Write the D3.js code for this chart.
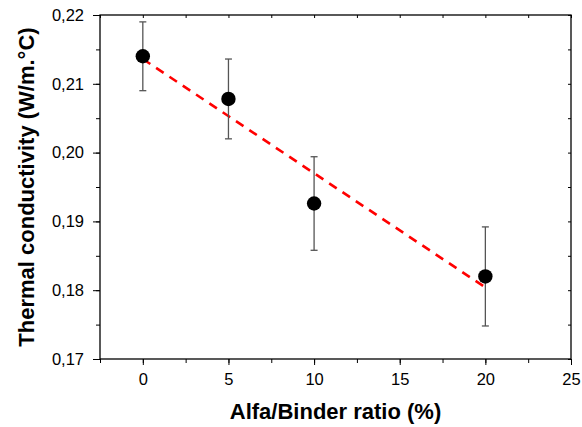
<!DOCTYPE html>
<html>
<head>
<meta charset="utf-8">
<script src="https://cdn.jsdelivr.net/npm/d3@7"></script>
<style>
  body { margin: 0; background: #fff; overflow: hidden; }
  svg { display: block; }
  text { font-family: "Liberation Sans", Arial, sans-serif; }
</style>
</head>
<body>
<div id="chart"></div>
<script>
// data
var ratios = [0, 5, 10, 20];
var conductivity = [0.2140, 0.2078, 0.1926, 0.1820];
var errors = [0.0050, 0.0058, 0.0068, 0.0072];
var fitX = [0, 20];
var fitY = [0.2136, 0.1804];
var xTicks = [0, 5, 10, 15, 20, 25];
var yTicks = [0.17, 0.18, 0.19, 0.20, 0.21, 0.22];

var width = 582, height = 427,
    margin = {top: 15, right: 11, bottom: 68, left: 100},
    innerWidth = width - margin.left - margin.right,
    innerHeight = height - margin.top - margin.bottom;

var svg = d3.select("#chart").append("svg")
    .attr("width", width)
    .attr("height", height);

var g = svg.append("g")
    .attr("transform", "translate(" + margin.left + "," + margin.top + ")");

var xScale = d3.scaleLinear().domain([-2.5, 25]).range([0, innerWidth]);
var yScale = d3.scaleLinear().domain([0.17, 0.22]).range([innerHeight, 0]);

var comma = function(d) { return d3.format(".2f")(d).replace(".", ","); };
var xMinor = d3.range(-2.5, 25.1, 2.5);
var yMinor = d3.range(0.17, 0.2201, 0.005);

// minor ticks first, then major ones on top
g.append("g").attr("transform", "translate(0," + innerHeight + ")")
    .call(d3.axisBottom(xScale).tickValues(xMinor).tickSize(4).tickFormat(""))
    .call(function(s) { s.select(".domain").remove(); });
g.append("g")
    .call(d3.axisLeft(yScale).tickValues(yMinor).tickSize(4).tickFormat(""))
    .call(function(s) { s.select(".domain").remove(); });

g.append("g").attr("class", "x axis")
    .attr("transform", "translate(0," + innerHeight + ")")
    .call(d3.axisBottom(xScale).tickValues(xTicks).tickSize(6).tickPadding(8).tickFormat(d3.format("d")))
    .call(function(s) { s.select(".domain").remove(); });

g.append("g").attr("class", "y axis")
    .call(d3.axisLeft(yScale).tickValues(yTicks).tickSize(7).tickPadding(9).tickFormat(comma))
    .call(function(s) { s.select(".domain").remove(); });

// top and right: small inward ticks
g.append("g")
    .call(d3.axisBottom(xScale).tickValues(xMinor).tickSize(3).tickFormat(""))
    .call(function(s) { s.select(".domain").remove(); });
g.append("g").attr("transform", "translate(" + innerWidth + ",0)")
    .call(d3.axisLeft(yScale).tickValues(yMinor).tickSize(3).tickFormat(""))
    .call(function(s) { s.select(".domain").remove(); });

g.selectAll(".tick line").attr("stroke", "#000");
g.selectAll(".tick text").attr("font-size", 16.5).attr("fill", "#000");

// frame
g.append("rect")
    .attr("width", innerWidth)
    .attr("height", innerHeight)
    .attr("fill", "none")
    .attr("stroke", "#000")
    .attr("stroke-width", 1.3);

// linear fit
var line = d3.line()
    .x(function(d) { return xScale(d[0]); })
    .y(function(d) { return yScale(d[1]); });

g.append("path")
    .datum(d3.zip(fitX, fitY))
    .attr("d", line)
    .attr("fill", "none")
    .attr("stroke", "#ff0000")
    .attr("stroke-width", 2.6)
    .attr("stroke-dasharray", "9,7");

var pts = ratios.map(function(r, i) { return {x: r, y: conductivity[i], e: errors[i]}; });

// error bars
var eb = g.selectAll(".err").data(pts).enter().append("g")
    .attr("class", "err")
    .attr("stroke", "#555")
    .attr("stroke-width", 1.3);
eb.append("line")
    .attr("x1", function(d) { return xScale(d.x); })
    .attr("x2", function(d) { return xScale(d.x); })
    .attr("y1", function(d) { return yScale(d.y - d.e); })
    .attr("y2", function(d) { return yScale(d.y + d.e); });
[-1, 1].forEach(function(sgn) {
  eb.append("line")
      .attr("x1", function(d) { return xScale(d.x) - 3.5; })
      .attr("x2", function(d) { return xScale(d.x) + 3.5; })
      .attr("y1", function(d) { return yScale(d.y + sgn * d.e); })
      .attr("y2", function(d) { return yScale(d.y + sgn * d.e); });
});

g.selectAll(".dot").data(pts).enter().append("circle")
    .attr("class", "dot")
    .attr("cx", function(d) { return xScale(d.x); })
    .attr("cy", function(d) { return yScale(d.y); })
    .attr("r", 7.2)
    .attr("fill", "#000");

// axis titles
svg.append("text")
    .attr("x", margin.left + innerWidth / 2)
    .attr("y", 419)
    .attr("text-anchor", "middle")
    .attr("font-size", 22)
    .attr("font-weight", "bold")
    .text("Alfa/Binder ratio (%)");

svg.append("text")
    .attr("transform", "translate(34," + (margin.top + innerHeight / 2) + ") rotate(-90)")
    .attr("text-anchor", "middle")
    .attr("font-size", 22)
    .attr("font-weight", "bold")
    .text("Thermal conductivity (W/m.°C)");
</script>
</body>
</html>
